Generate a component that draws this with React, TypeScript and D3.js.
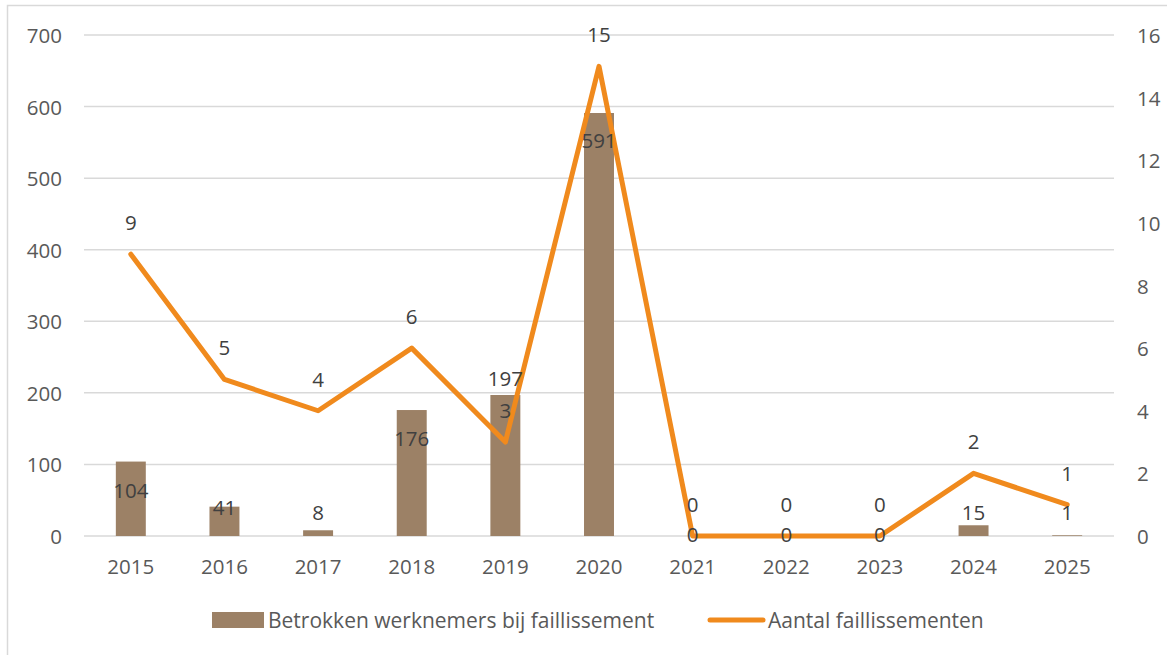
import React from 'react';
import * as d3 from 'd3';

const years = ['2015', '2016', '2017', '2018', '2019', '2020', '2021', '2022', '2023', '2024', '2025'];
const werknemers = [104, 41, 8, 176, 197, 591, 0, 0, 0, 15, 1];
const faillissementen = [9, 5, 4, 6, 3, 15, 0, 0, 0, 2, 1];
const leftTicks = [0, 100, 200, 300, 400, 500, 600, 700];
const rightTicks = [0, 2, 4, 6, 8, 10, 12, 14, 16];

// label nudges (px, relative to bar top) as they were placed by hand in the original
const barLabelShift = [28, 0, -18, 28, -17, 27, -2, -2, -2, -13, -23];

const W = 1167;
const H = 655;
const margin = { top: 35, right: 53, bottom: 119, left: 84 };
const font = '"Open Sans", sans-serif';
const fs = 20.5;
const textColor = '#595959';
const barColor = '#9C8166';
const lineColor = '#F08A1D';

export default function App() {
    const x = d3
        .scaleBand()
        .domain(years)
        .range([margin.left, W - margin.right])
        .paddingInner(0.68)
        .paddingOuter(0.34);
    const yLeft = d3.scaleLinear().domain([0, 700]).range([H - margin.bottom, margin.top]);
    const yRight = d3.scaleLinear().domain([0, 16]).range([H - margin.bottom, margin.top]);
    const cx = (d: string) => (x(d) as number) + x.bandwidth() / 2;

    const line = d3
        .line<number>()
        .x((_, i) => cx(years[i]))
        .y((d) => yRight(d));

    const x0 = margin.left;
    const x1 = W - margin.right;

    return (
        <div style={{ position: 'absolute', left: 0, top: 0 }}>
            <svg width={W} height={H} style={{ display: 'block', fontFamily: font }}>
                <rect x={7.5} y={5.5} width={W + 20} height={H + 20} fill="#fff" stroke="#d9d9d9" strokeWidth={1.5} />

                {leftTicks.map((t) => (
                    <line key={'g' + t} x1={x0} x2={x1} y1={yLeft(t)} y2={yLeft(t)} stroke="#d9d9d9" strokeWidth={1.5} />
                ))}

                {leftTicks.map((t) => (
                    <text key={'l' + t} x={62} y={yLeft(t)} textAnchor="end" dominantBaseline="central" fontSize={fs} fill={textColor}>
                        {t}
                    </text>
                ))}
                {rightTicks.map((t) => (
                    <text key={'r' + t} x={1137} y={yRight(t)} textAnchor="start" dominantBaseline="central" fontSize={fs} fill={textColor}>
                        {t}
                    </text>
                ))}
                {years.map((d) => (
                    <text key={'x' + d} x={cx(d)} y={566} textAnchor="middle" dominantBaseline="central" fontSize={fs} fill={textColor}>
                        {d}
                    </text>
                ))}

                {werknemers.map((v, i) => (
                    <rect
                        key={'b' + i}
                        x={x(years[i])}
                        y={yLeft(v)}
                        width={x.bandwidth()}
                        height={yLeft(0) - yLeft(v)}
                        fill={barColor}
                    />
                ))}

                <path d={line(faillissementen) || ''} fill="none" stroke={lineColor} strokeWidth={5} strokeLinejoin="round" strokeLinecap="round" />

                {werknemers.map((v, i) => (
                    <text key={'bl' + i} x={cx(years[i])} y={yLeft(v) + barLabelShift[i]} textAnchor="middle" dominantBaseline="central" fontSize={fs} fill="#404040">
                        {v}
                    </text>
                ))}
                {faillissementen.map((v, i) => (
                    <text key={'ll' + i} x={cx(years[i])} y={yRight(v) - 32} textAnchor="middle" dominantBaseline="central" fontSize={fs} fill="#404040">
                        {v}
                    </text>
                ))}

                <g>
                    <rect x={212} y={612} width={52} height={16} fill={barColor} />
                    <text x={268} y={620} dominantBaseline="central" fontSize={21} fill={textColor}>
                        Betrokken werknemers bij faillissement
                    </text>
                    <line x1={710} x2={763} y1={620} y2={620} stroke={lineColor} strokeWidth={5} strokeLinecap="round" />
                    <text x={768} y={620} dominantBaseline="central" fontSize={21} fill={textColor}>
                        Aantal faillissementen
                    </text>
                </g>
            </svg>
        </div>
    );
}
